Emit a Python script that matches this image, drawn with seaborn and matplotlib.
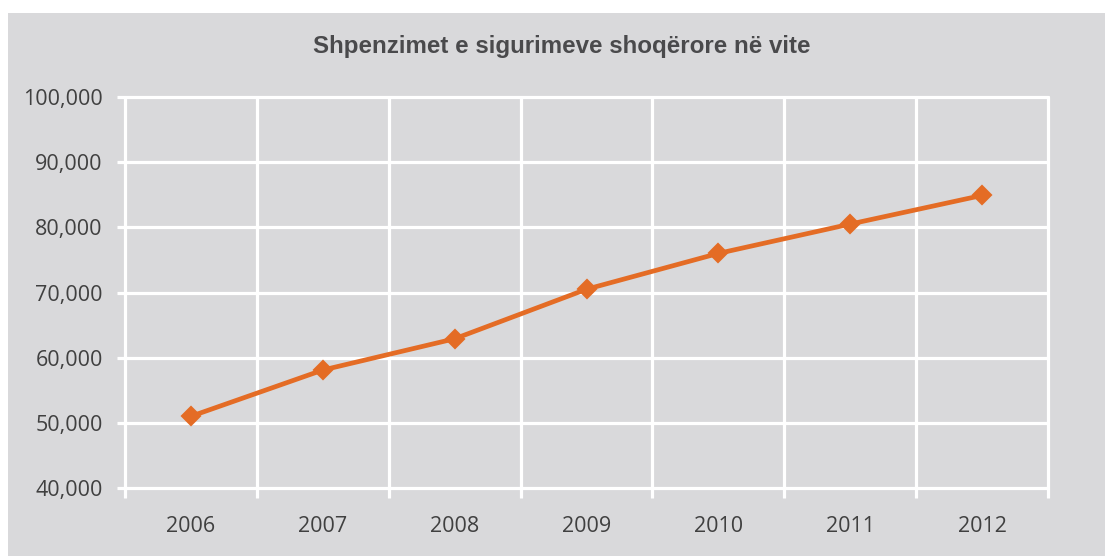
import matplotlib
matplotlib.use("Agg")
import matplotlib.pyplot as plt
import seaborn as sns
import pandas as pd
from matplotlib.patches import Rectangle
from matplotlib.ticker import FuncFormatter, FixedLocator

years = ["2006", "2007", "2008", "2009", "2010", "2011", "2012"]
values = [51000, 58100, 62900, 70500, 76000, 80500, 84900]
y_ticks = [40000, 50000, 60000, 70000, 80000, 90000, 100000]
title = "Shpenzimet e sigurimeve shoqërore në vite"

sns.set_theme(style="white")
plt.rcParams["font.family"] = ["Open Sans", "DejaVu Sans"]

bg = "#D9D9DB"
text_c = "#404040"
line_c = "#E46C25"

fig = plt.figure(figsize=(11.05, 5.56), dpi=100, facecolor="white")
fig.patches.append(Rectangle((8 / 1105, 0), 1 - 8 / 1105, 1 - 13 / 556,
                             transform=fig.transFigure, facecolor=bg,
                             edgecolor="none", zorder=-10))
ax = fig.add_axes([125 / 1105, 1 - 488 / 556, (1048 - 125) / 1105, (488 - 97) / 556])
ax.set_facecolor(bg)

df = pd.DataFrame({"year": years, "value": values})
sns.pointplot(data=df, x="year", y="value", color=line_c, markers="D",
              linestyles="-", linewidth=3.4, markersize=8.5, ax=ax, errorbar=None,
              zorder=5)

ax.set_xlim(-0.5, len(years) - 0.5)
ax.set_ylim(y_ticks[0], y_ticks[-1])
ax.set_yticks(y_ticks)
ax.yaxis.set_major_formatter(FuncFormatter(lambda v, p: f"{int(v):,}"))
ax.xaxis.set_minor_locator(FixedLocator([i - 0.5 for i in range(len(years) + 1)]))

for s in ax.spines.values():
    s.set_visible(False)

ax.grid(True, which="minor", axis="x", color="white", linewidth=2.3)
ax.grid(True, which="major", axis="y", color="white", linewidth=2.3)
ax.grid(False, which="major", axis="x")
for t in ax.xaxis.get_minor_ticks() + ax.yaxis.get_major_ticks():
    t.gridline.set_clip_on(False)

ax.tick_params(axis="x", which="major", length=0, pad=20, labelsize=15.5, labelcolor=text_c)
ax.tick_params(axis="x", which="minor", length=7, width=2.3, color="white", direction="out", bottom=True)
ax.tick_params(axis="y", which="major", length=6, width=2.3, color="white", left=True,
               pad=10, labelsize=15.5, labelcolor=text_c)
ax.set_xlabel("")
ax.set_ylabel("")

fig.text(562 / 1105, 1 - 47 / 556, title, ha="center", va="center",
         fontsize=17.4, fontweight="bold", color="#4a4a4c",
         family=["Liberation Sans", "DejaVu Sans"])

fig.savefig("out.png", dpi=100, facecolor="white")
